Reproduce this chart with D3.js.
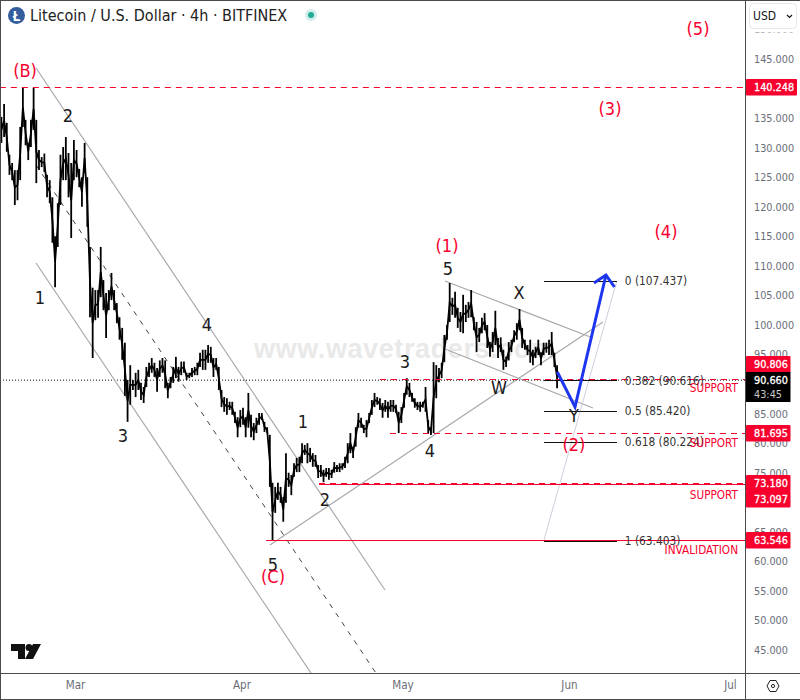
<!DOCTYPE html>
<html>
<head>
<meta charset="utf-8">
<script src="https://d3js.org/d3.v7.min.js"></script>
<style>
  html, body { margin: 0; padding: 0; background: #fff; }
  svg { display: block; }
</style>
</head>
<body>
<div id="chart"></div>
<script>
// 12h samples from Feb 15 2025
let barHighs = [135.2,137.4,134.2,128.8,127.4,126.2,126.2,133.5,140.1,134.7,130.8,134.7,140.1,134.7,129.6,128.4,129.0,125.4,124.5,121.6,115,120.6,128.8,130.1,131.8,129.1,127.4,131.3,129.6,126.4,125,130.8,125,
  113.2,106.3,105.9,105.9,113.2,107.6,105.4,105.9,108.8,105.9,103.7,101.3,99.5,97,90.7,93.2,90.7,91.9,92.4,90.2,89.5,92.9,93.6,94.4,93.6,92.7,94,94.4,94,90.2,91.2,92.9,94.6,92.9,93.8,93.8,91.9,91.9,92.7,92.9,93.6,95.3,95.8,
  95.8,96.6,96.3,94.4,94.4,92.9,89,87.8,87.6,87,87,85.3,84.4,85.6,86,84.4,88.5,84.8,83.4,84.3,85.1,85.1,83.6,82.7,81.4,73.3,72.6,73.3,72.6,70.9,78.3,75,74.6,76.6,77.5,77.7,80,79.7,80,
  79.2,78.3,78,76.3,76.3,75.5,75.8,75.8,75.5,76.8,76.3,76.6,76.6,77.7,80,81.7,79.4,82.7,85.1,84.3,83.1,83.9,85.1,87.3,88.5,87.8,87.6,86.8,87.3,87,87.3,87.3,86.5,85.3,86.1,88.5,91,90.2,88.5,87.6,87,87,87,89.5,83.9,82.7,
  93.7,93.2,92.7,93.6,98.3,100,107.1,104.6,105.6,102.9,102.2,105.1,103.4,103.9,105.9,101.3,100.5,99.5,101.2,102,100,97.1,98.8,102.4,97.8,97.9,95.8,94.6,97.1,97.5,99.1,100.3,102.7,99.5,97.5,96.6,97.5,95.8,96.3,97.5,95.4,97,97,97.5,98.8,95.3,93.2];
let barLows = [130.8,131.8,129.3,125.4,124.5,120.3,121.1,124.5,133.5,130.4,127.9,130.1,133,124,126.2,126.7,125.9,121.6,120.6,113.9,106.4,113.2,120.3,124.5,124.5,121.6,114.7,124.5,125,123.3,120,125.7,116.6,
  101.3,94.4,100.8,101.2,104.7,102.5,97.8,102.5,104.2,102.5,100.3,97.5,94.1,88,83.6,86.5,89,87.8,89,87.3,86.8,89.5,91.2,91.9,91.2,88.7,91.2,91.9,89.3,87.6,89.3,90.2,91,90.4,91.5,91.9,90.7,91,91.2,91.5,91.5,92.9,92.4,
  92.4,93.6,93.6,91.2,92.4,89,86.1,85.3,84.8,85.6,84.8,83.4,81,82.7,83.1,81,82.6,81,80.5,81.7,83.1,83.9,81.9,81.7,72.6,63.5,68.2,70.4,69.9,66.7,69.9,72.6,71.2,74.3,75.1,75.1,76.6,78,76.6,
  76.8,76,76,74.1,74.3,73.4,74.3,73.8,74.1,75,75.1,75.1,75.5,75.8,76.6,78.3,77.5,79.4,82.6,82.6,81.7,81,83.4,84.8,86.1,86.5,85.6,84.3,85.3,84.3,85.3,85.3,85.1,81.7,83.4,86,88.2,87.8,87,86,85.6,85.3,86,85.3,81.7,81.4,
  81.7,87.6,90.3,91,93.7,97.5,100.5,101.7,101.2,99.5,98.8,98.6,100.5,101.2,101.3,99.1,95.4,97.1,98.6,99.1,96.1,94.6,95.4,96.6,94.4,95.4,92.4,92.9,94,95.4,97.1,97.5,99.1,96.1,95.8,94.9,93.6,93.2,94.4,94.9,93.2,94.9,95.3,94.9,94.9,92.9,89.3];

let priceTicks = d3.range(45, 155, 5);
let monthLabels = ["Mar", "Apr", "May", "Jun", "Jul"];
let monthDates = [[2025,2,1],[2025,3,1],[2025,4,1],[2025,5,1],[2025,6,1]].map(d => new Date(Date.UTC(...d)));

// trend lines: day since Mar 1, price
let grayLines = [
  [-7.26,143.48,57.74,55.15],
  [-7.26,110.48,43.96,41.1],
  [36.32,62.77,98.34,100.5],
  [68.91,107.44,96.48,97.79],
  [68.91,95.93,96.48,85.95]
];
let midChannel = [-7.26,127.06,56.06,41.1];
let fibTrend = [87.35,63.6,100.89,107.35];
let bluePath = [[89.83,92.04],[93.13,86.12],[98.9,108.45]];
let blueHead = [[96.67,107.1],[98.9,108.45],[100.48,106.42]];

let redDashed = [[-14,140.248],[56.81,90.806],[58.67,81.695],[45.45,73.18]];
let redSolid = [[45.45,73.097],[35.57,63.546]];

let fibLevels = [107.437,90.616,85.42,80.224,63.403];
let fibNames = ["0 (107.437)","0.382 (90.616)","0.5 (85.420)","0.618 (80.224)","1 (63.403)"];

let blackWaves = [["1",-6.52,104.56],["2",-1.3,135.52],["3",8.94,81.21],["4",24.59,100],["5",36.88,59.4],["1",42.47,83.58],["2",46.56,70.38],["3",61.46,93.73],["4",66.12,78.67],["5",69.47,109.47],["X",82.7,105.41],["W",78.97,89.33],["Y",92.94,84.6]];
let redWaves = [["(B)",-9.31,142.97],["(C)",36.88,57.36],["(1)",69.29,113.36],["(2)",92.94,79.69],["(3)",99.65,136.54],["(4)",110.08,115.73],["(5)",116.04,150.08]];

let supportNames = [["SUPPORT",89.3],["SUPPORT",80.0],["SUPPORT",71.3],["INVALIDATION",61.9]];

let lastPrice = 90.66;
let priceBoxes = ["140.248","90.806","81.695","73.180","73.097","63.546"];
let priceBoxLevels = [140.248,93.4,81.695,73.18,70.6,63.546];

let width = 800, height = 700;
let paneW = 745, paneH = 673;
let red = "#f8002e", gray = "#6a6d78", ui = "Open Sans, sans-serif", waveFont = "DejaVu Sans Condensed, sans-serif";

let x = d3.scaleUtc().domain([monthDates[0], monthDates[4]]).range([75, 730]);
let y = d3.scaleLinear().domain([45, 145]).range([650, 59]);
let day = d => d3.utcMinute.offset(monthDates[0], Math.round(d * 1440));
let start = new Date(Date.UTC(2025, 1, 15, 7));
let bars = barHighs.map((h, i) => ({date: d3.utcHour.offset(start, i * 12), high: h, low: barLows[i]}));

let svg = d3.select("#chart").append("svg")
  .attr("width", width).attr("height", height)
  .attr("viewBox", [0, 0, width, height]);

svg.append("clipPath").attr("id", "pane").append("rect")
  .attr("x", 0).attr("y", 0).attr("width", paneW).attr("height", paneH);

let pane = svg.append("g").attr("clip-path", "url(#pane)");

pane.append("text")
  .attr("x", 254).attr("y", 358)
  .attr("font-family", "Liberation Sans, sans-serif")
  .attr("font-weight", "bold").attr("font-size", 27)
  .attr("letter-spacing", 0.6)
  .attr("fill", "#e9e9e9")
  .text("www.wavetraders.com");

// current price dotted line
pane.append("line")
  .attr("x1", 0).attr("x2", paneW)
  .attr("y1", y(lastPrice)).attr("y2", y(lastPrice))
  .attr("stroke", "#111").attr("stroke-dasharray", "1,2");

pane.append("g")
  .attr("stroke", "#a9a9ad").attr("stroke-width", 1.2)
  .selectAll("line").data(grayLines).join("line")
  .attr("x1", d => x(day(d[0]))).attr("y1", d => y(d[1]))
  .attr("x2", d => x(day(d[2]))).attr("y2", d => y(d[3]));

pane.append("line")
  .attr("x1", x(day(midChannel[0]))).attr("y1", y(midChannel[1]))
  .attr("x2", x(day(midChannel[2]))).attr("y2", y(midChannel[3]))
  .attr("stroke", "#444").attr("stroke-dasharray", "5,6");

pane.append("line")
  .attr("x1", x(day(fibTrend[0]))).attr("y1", y(fibTrend[1]))
  .attr("x2", x(day(fibTrend[2]))).attr("y2", y(fibTrend[3]))
  .attr("stroke", "#cfcfdc");

// price bars, with a line through their middles to close the gaps
pane.append("path")
  .attr("fill", "none").attr("stroke", "#000").attr("stroke-width", 1.8)
  .attr("d", d3.line().x(d => x(d.date)).y(d => y((d.high + d.low) / 2))(bars));

pane.append("g")
  .attr("stroke", "#000").attr("stroke-width", 1.8)
  .selectAll("line").data(bars).join("line")
  .attr("x1", d => x(d.date)).attr("x2", d => x(d.date))
  .attr("y1", d => y(d.high)).attr("y2", d => y(d.low));

pane.append("g")
  .attr("stroke", red).attr("stroke-dasharray", "6,5")
  .selectAll("line").data(redDashed).join("line")
  .attr("x1", d => x(day(d[0]))).attr("x2", paneW)
  .attr("y1", d => Math.round(y(d[1])) + 0.5).attr("y2", d => Math.round(y(d[1])) + 0.5);

pane.append("g")
  .attr("stroke", red)
  .selectAll("line").data(redSolid).join("line")
  .attr("x1", d => x(day(d[0]))).attr("x2", paneW)
  .attr("y1", d => Math.round(y(d[1])) + 0.5).attr("y2", d => Math.round(y(d[1])) + 0.5);

pane.append("g")
  .attr("stroke", "#111")
  .selectAll("line").data(fibLevels).join("line")
  .attr("x1", x(day(87.35))).attr("x2", x(day(100.95)))
  .attr("y1", d => Math.round(y(d)) + 0.5).attr("y2", d => Math.round(y(d)) + 0.5);

pane.append("g")
  .attr("font-family", waveFont).attr("font-size", 11.8).attr("fill", "#333")
  .selectAll("text").data(fibNames).join("text")
  .attr("x", x(day(102.4)))
  .attr("y", (d, i) => y(fibLevels[i]))
  .attr("dy", "0.35em")
  .text(d => d);

let blueLine = d3.line().x(d => x(day(d[0]))).y(d => y(d[1]));
pane.append("g").attr("fill", "none").attr("stroke", "#1c35ee").attr("stroke-width", 3)
  .selectAll("path").data([bluePath, blueHead]).join("path")
  .attr("d", blueLine);

pane.append("g")
  .attr("font-family", waveFont).attr("font-size", 18).attr("fill", "#1a1a1a")
  .attr("text-anchor", "middle")
  .selectAll("text").data(blackWaves).join("text")
  .attr("x", d => x(day(d[1]))).attr("y", d => y(d[2]))
  .attr("dy", "0.36em")
  .text(d => d[0]);

pane.append("g")
  .attr("font-family", waveFont).attr("font-size", 18).attr("fill", red)
  .attr("text-anchor", "middle")
  .selectAll("text").data(redWaves).join("text")
  .attr("x", d => x(day(d[1]))).attr("y", d => y(d[2]))
  .attr("dy", "0.36em")
  .text(d => d[0]);

pane.append("g")
  .attr("font-family", waveFont).attr("font-size", 11.7).attr("fill", red)
  .attr("text-anchor", "end")
  .selectAll("text").data(supportNames).join("text")
  .attr("x", 738).attr("y", d => y(d[1]))
  .attr("dy", "0.35em")
  .text(d => d[0]);

// title
svg.append("circle").attr("cx", 16.5).attr("cy", 15.5).attr("r", 8.5).attr("fill", "#345d9d");
svg.append("text").attr("x", 16.5).attr("y", 20.5).attr("text-anchor", "middle")
  .attr("font-family", ui).attr("font-weight", "bold").attr("font-size", 14).attr("fill", "#fff").text("Ł");
svg.append("text").attr("x", 30).attr("y", 21)
  .attr("font-family", waveFont).attr("font-size", 16).attr("fill", "#222")
  .text("Litecoin / U.S. Dollar · 4h · BITFINEX");
svg.append("circle").attr("cx", 311).attr("cy", 15).attr("r", 6).attr("fill", "#22ab94").attr("opacity", 0.2);
svg.append("circle").attr("cx", 311).attr("cy", 15).attr("r", 3).attr("fill", "#22ab94");

// tradingview mark
let mark = svg.append("g").attr("fill", "#111");
mark.append("path").attr("d", "M11 644H25V659H18V651H11Z");
mark.append("circle").attr("cx", 29).attr("cy", 647.5).attr("r", 3.5);
mark.append("path").attr("d", "M33 644H41L33 659H25Z");

// right axis
let yAxis = g => g
  .attr("transform", `translate(${paneW},0)`)
  .call(d3.axisRight(y).tickValues(priceTicks).tickSize(0).tickPadding(9).tickFormat(d3.format(".3f")))
  .call(g => g.select(".domain").remove())
  .call(g => g.selectAll("text")
    .attr("font-family", waveFont).attr("font-size", 10.8).attr("fill", gray));
svg.append("g").call(yAxis);

let xAxis = g => g
  .attr("transform", `translate(0,${paneH})`)
  .call(d3.axisBottom(x).tickValues(monthDates).tickSize(0).tickPadding(8).tickFormat((d, i) => monthLabels[i]))
  .call(g => g.select(".domain").remove())
  .call(g => g.selectAll("text")
    .attr("font-family", waveFont).attr("font-size", 11.5).attr("fill", gray));
svg.append("g").call(xAxis);

// usd button
svg.append("rect").attr("x", 746.5).attr("y", 0).attr("width", 53).attr("height", 32.5).attr("fill", "#fff");
svg.append("rect").attr("x", 749.5).attr("y", 3.5).attr("width", 47).attr("height", 25).attr("rx", 4)
  .attr("fill", "#fff").attr("stroke", "#e6e8ee");
svg.append("text").attr("x", 753).attr("y", 20)
  .attr("font-family", waveFont).attr("font-size", 12).attr("fill", "#131722").text("USD");
svg.append("path").attr("d", "M787 15L789.5 17.5L792 15").attr("fill", "none").attr("stroke", "#131722").attr("stroke-width", 1.2);

// price tags
let tags = svg.append("g").selectAll("g").data(priceBoxes).join("g")
  .attr("transform", (d, i) => `translate(${paneW + 1},${Math.round(y(priceBoxLevels[i]))})`);
tags.append("rect")
  .attr("x", 0).attr("y", -8)
  .attr("width", d => d.length > 6 ? 51 : 44.5).attr("height", 16.5)
  .attr("rx", 1).attr("fill", red);
tags.append("text")
  .attr("x", 8).attr("dy", "0.35em")
  .attr("font-family", waveFont).attr("font-size", 10.8).attr("fill", "#fff")
  .attr("stroke", "#fff").attr("stroke-width", 0.3)
  .text(d => d);

let lastTag = svg.append("g").attr("transform", `translate(${paneW + 1},${Math.round(y(lastPrice))})`);
lastTag.append("rect").attr("x", 0).attr("y", -8).attr("width", 44.5).attr("height", 30).attr("fill", "#000");
lastTag.append("text").attr("x", 8).attr("y", 0).attr("dy", "0.35em")
  .attr("font-family", waveFont).attr("font-size", 10.8).attr("fill", "#fff")
  .attr("stroke", "#fff").attr("stroke-width", 0.3).text("90.660");
lastTag.append("text").attr("x", 8).attr("y", 14).attr("dy", "0.35em")
  .attr("font-family", waveFont).attr("font-size", 10.8).attr("fill", "#c8c8c8").text("43:45");

// settings icon
svg.append("path").attr("d", "M767 686L770 680.5H776L779 686L776 691.5H770Z").attr("fill", "none").attr("stroke", "#222");
svg.append("circle").attr("cx", 773).attr("cy", 686).attr("r", 1.6).attr("fill", "none").attr("stroke", "#222");

// frame
svg.append("g").attr("stroke", "#4a4a4a")
  .selectAll("line").data([[0,0.5,800,0.5],[0.5,0,0.5,700],[0,699.5,800,699.5],[745.5,0,745.5,700],[0,673.5,800,673.5]]).join("line")
  .attr("x1", d => d[0]).attr("y1", d => d[1]).attr("x2", d => d[2]).attr("y2", d => d[3]);
</script>
</body>
</html>
